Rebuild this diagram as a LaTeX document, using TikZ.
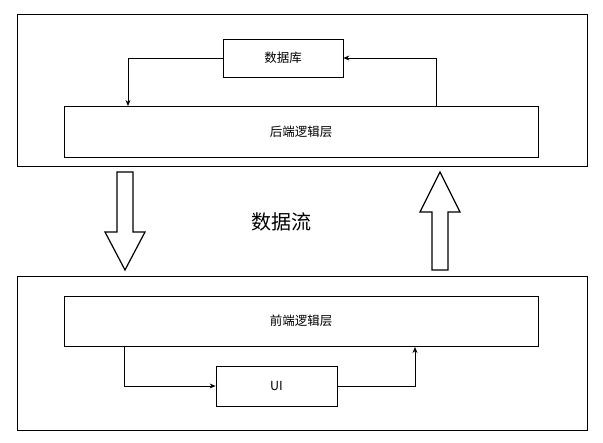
\documentclass[tikz,border=0pt]{standalone}
\usepackage{fontspec}
\setmainfont{Noto Sans CJK SC}
\usetikzlibrary{arrows.meta,calc}

\tikzset{
  box/.style={draw,line width=0.8pt,inner sep=0pt},
  lbl/.style={font=\fontsize{12.5}{14}\selectfont},
  link/.style={line width=0.8pt,-{Stealth[length=6pt,width=5pt]}},
  hollow/.style={draw,line width=1.2pt,fill=white}
}

\begin{document}
\begin{tikzpicture}[x=1pt,y=-1pt]
\useasboundingbox (0,0) rectangle (603,443);

% outer frames
\draw[line width=0.8pt] (17,14) rectangle (587,166);
\draw[line width=0.8pt] (17,276) rectangle (587,430);

% top part
\node[box,minimum width=120pt,minimum height=38pt,lbl] (db) at (283,58) {数据库};
\node[box,minimum width=474pt,minimum height=51pt,lbl] (back) at (301,131.5) {后端逻辑层};
\draw[link] (db.west) -- (128,58) -- (128,106);
\draw[link] (436,106) -- (436,58) -- (db.east);

% bottom part
\node[box,minimum width=474pt,minimum height=50pt,lbl] (front) at (301,321) {前端逻辑层};
\node[box,minimum width=121pt,minimum height=40pt,lbl] (ui) at (276.5,386) {UI};
\draw[link] (124,346) -- (124,386) -- (ui.west);
\draw[link] (ui.east) -- (415,386) -- (415,347);

% data flow
\node[font=\fontsize{20}{22}\selectfont] (flow) at (281,222) {数据流};
\draw[hollow] (117,172) -- (133,172) -- (133,232) -- (145,232) -- (125,270)
  -- (105,232) -- (117,232) -- cycle;
\draw[hollow] (432,270) -- (448,270) -- (448,212) -- (460,212) -- (440,172)
  -- (420,212) -- (432,212) -- cycle;
\end{tikzpicture}
\end{document}
